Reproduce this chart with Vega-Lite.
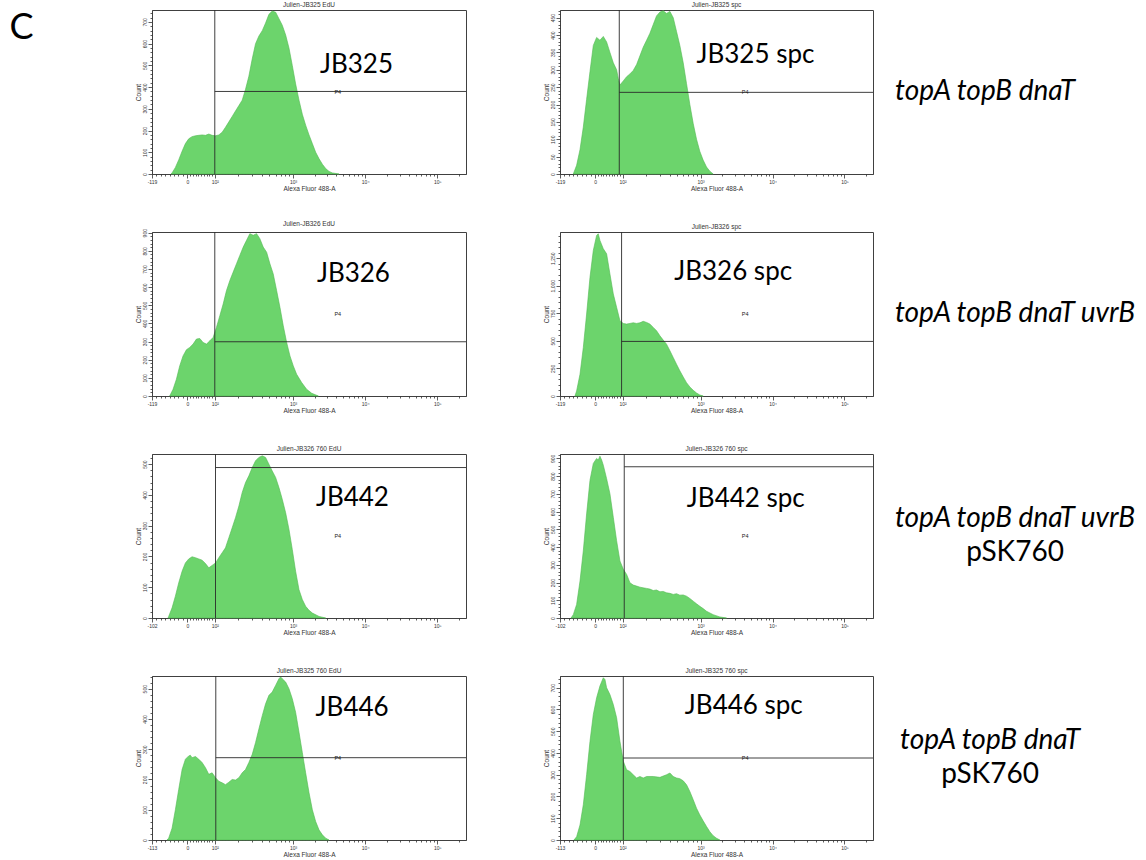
{
"$schema": "https://vega.github.io/schema/vega-lite/v6.json",
"padding": {"left": 9, "top": 1, "right": 0, "bottom": 0},
"background": "white",
"title": {"text": "C", "orient": "left", "anchor": "end", "angle": 0, "align": "right", "baseline": "top", "font": "Lato", "fontSize": 36, "fontWeight": "normal", "color": "#000000", "offset": 77, "dy": 10},
"columns": 3,
"spacing": {"row": 58, "column": 94},
"bounds": "flush",
"datasets": {
"hist": [
{"p":1,"u":1.310,"c":0},{"p":1,"u":1.324,"c":5},{"p":1,"u":1.370,"c":30},{"p":1,"u":1.416,"c":65},{"p":1,"u":1.463,"c":105},{"p":1,"u":1.509,"c":140},{"p":1,"u":1.555,"c":162},{"p":1,"u":1.601,"c":172},{"p":1,"u":1.648,"c":176},{"p":1,"u":1.694,"c":178},{"p":1,"u":1.740,"c":180},{"p":1,"u":1.787,"c":178},{"p":1,"u":1.833,"c":184},{"p":1,"u":1.879,"c":178},{"p":1,"u":1.926,"c":176},{"p":1,"u":1.972,"c":180},{"p":1,"u":2.018,"c":192},{"p":1,"u":2.064,"c":215},{"p":1,"u":2.111,"c":240},{"p":1,"u":2.157,"c":265},{"p":1,"u":2.203,"c":290},{"p":1,"u":2.250,"c":315},{"p":1,"u":2.296,"c":340},{"p":1,"u":2.342,"c":390},{"p":1,"u":2.388,"c":450},{"p":1,"u":2.435,"c":530},{"p":1,"u":2.481,"c":600},{"p":1,"u":2.527,"c":635},{"p":1,"u":2.574,"c":660},{"p":1,"u":2.620,"c":695},{"p":1,"u":2.666,"c":735},{"p":1,"u":2.712,"c":750},{"p":1,"u":2.759,"c":745},{"p":1,"u":2.805,"c":715},{"p":1,"u":2.851,"c":685},{"p":1,"u":2.898,"c":640},{"p":1,"u":2.944,"c":580},{"p":1,"u":2.990,"c":500},{"p":1,"u":3.036,"c":415},{"p":1,"u":3.083,"c":340},{"p":1,"u":3.129,"c":275},{"p":1,"u":3.175,"c":225},{"p":1,"u":3.222,"c":180},{"p":1,"u":3.268,"c":140},{"p":1,"u":3.314,"c":100},{"p":1,"u":3.361,"c":70},{"p":1,"u":3.407,"c":45},{"p":1,"u":3.453,"c":25},{"p":1,"u":3.499,"c":12},{"p":1,"u":3.546,"c":5},{"p":1,"u":3.638,"c":0},
{"p":2,"u":1.231,"c":0},{"p":2,"u":1.277,"c":25},{"p":2,"u":1.324,"c":70},{"p":2,"u":1.370,"c":135},{"p":2,"u":1.416,"c":215},{"p":2,"u":1.463,"c":295},{"p":2,"u":1.509,"c":370},{"p":2,"u":1.555,"c":393},{"p":2,"u":1.601,"c":385},{"p":2,"u":1.648,"c":396},{"p":2,"u":1.694,"c":380},{"p":2,"u":1.740,"c":350},{"p":2,"u":1.787,"c":320},{"p":2,"u":1.833,"c":300},{"p":2,"u":1.856,"c":275},{"p":2,"u":1.879,"c":256},{"p":2,"u":1.926,"c":268},{"p":2,"u":1.972,"c":280},{"p":2,"u":2.018,"c":288},{"p":2,"u":2.064,"c":298},{"p":2,"u":2.111,"c":315},{"p":2,"u":2.157,"c":340},{"p":2,"u":2.203,"c":365},{"p":2,"u":2.250,"c":385},{"p":2,"u":2.296,"c":405},{"p":2,"u":2.342,"c":430},{"p":2,"u":2.388,"c":455},{"p":2,"u":2.435,"c":466},{"p":2,"u":2.481,"c":470},{"p":2,"u":2.527,"c":462},{"p":2,"u":2.574,"c":468},{"p":2,"u":2.620,"c":450},{"p":2,"u":2.666,"c":410},{"p":2,"u":2.712,"c":370},{"p":2,"u":2.759,"c":320},{"p":2,"u":2.805,"c":260},{"p":2,"u":2.851,"c":200},{"p":2,"u":2.898,"c":145},{"p":2,"u":2.944,"c":100},{"p":2,"u":2.990,"c":65},{"p":2,"u":3.036,"c":40},{"p":2,"u":3.083,"c":20},{"p":2,"u":3.129,"c":8},{"p":2,"u":3.175,"c":0},
{"p":3,"u":1.291,"c":0},{"p":3,"u":1.338,"c":37},{"p":3,"u":1.384,"c":92},{"p":3,"u":1.430,"c":166},{"p":3,"u":1.476,"c":221},{"p":3,"u":1.523,"c":255},{"p":3,"u":1.569,"c":268},{"p":3,"u":1.615,"c":286},{"p":3,"u":1.662,"c":314},{"p":3,"u":1.708,"c":317},{"p":3,"u":1.754,"c":295},{"p":3,"u":1.801,"c":286},{"p":3,"u":1.847,"c":304},{"p":3,"u":1.893,"c":323},{"p":3,"u":1.939,"c":378},{"p":3,"u":1.986,"c":443},{"p":3,"u":2.032,"c":507},{"p":3,"u":2.078,"c":581},{"p":3,"u":2.125,"c":637},{"p":3,"u":2.171,"c":683},{"p":3,"u":2.217,"c":729},{"p":3,"u":2.263,"c":775},{"p":3,"u":2.310,"c":821},{"p":3,"u":2.356,"c":858},{"p":3,"u":2.402,"c":895},{"p":3,"u":2.449,"c":886},{"p":3,"u":2.495,"c":895},{"p":3,"u":2.541,"c":867},{"p":3,"u":2.587,"c":821},{"p":3,"u":2.634,"c":793},{"p":3,"u":2.680,"c":729},{"p":3,"u":2.726,"c":673},{"p":3,"u":2.773,"c":581},{"p":3,"u":2.819,"c":489},{"p":3,"u":2.865,"c":387},{"p":3,"u":2.912,"c":295},{"p":3,"u":2.958,"c":221},{"p":3,"u":3.004,"c":166},{"p":3,"u":3.050,"c":120},{"p":3,"u":3.120,"c":74},{"p":3,"u":3.189,"c":37},{"p":3,"u":3.259,"c":15},{"p":3,"u":3.351,"c":0},
{"p":4,"u":1.254,"c":0},{"p":4,"u":1.277,"c":46},{"p":4,"u":1.324,"c":197},{"p":4,"u":1.370,"c":440},{"p":4,"u":1.416,"c":743},{"p":4,"u":1.463,"c":1077},{"p":4,"u":1.509,"c":1320},{"p":4,"u":1.555,"c":1456},{"p":4,"u":1.578,"c":1471},{"p":4,"u":1.601,"c":1411},{"p":4,"u":1.648,"c":1335},{"p":4,"u":1.694,"c":1289},{"p":4,"u":1.740,"c":1107},{"p":4,"u":1.787,"c":925},{"p":4,"u":1.833,"c":804},{"p":4,"u":1.879,"c":683},{"p":4,"u":1.926,"c":658},{"p":4,"u":1.972,"c":652},{"p":4,"u":2.018,"c":658},{"p":4,"u":2.064,"c":664},{"p":4,"u":2.111,"c":658},{"p":4,"u":2.157,"c":664},{"p":4,"u":2.203,"c":677},{"p":4,"u":2.250,"c":667},{"p":4,"u":2.296,"c":652},{"p":4,"u":2.342,"c":622},{"p":4,"u":2.388,"c":592},{"p":4,"u":2.435,"c":546},{"p":4,"u":2.481,"c":507},{"p":4,"u":2.527,"c":470},{"p":4,"u":2.574,"c":410},{"p":4,"u":2.620,"c":349},{"p":4,"u":2.666,"c":288},{"p":4,"u":2.712,"c":228},{"p":4,"u":2.759,"c":173},{"p":4,"u":2.805,"c":121},{"p":4,"u":2.851,"c":82},{"p":4,"u":2.898,"c":52},{"p":4,"u":2.944,"c":27},{"p":4,"u":2.990,"c":9},{"p":4,"u":3.036,"c":0},
{"p":5,"u":1.268,"c":0},{"p":5,"u":1.277,"c":5},{"p":5,"u":1.324,"c":33},{"p":5,"u":1.370,"c":71},{"p":5,"u":1.416,"c":114},{"p":5,"u":1.463,"c":152},{"p":5,"u":1.509,"c":179},{"p":5,"u":1.555,"c":192},{"p":5,"u":1.601,"c":199},{"p":5,"u":1.648,"c":196},{"p":5,"u":1.694,"c":192},{"p":5,"u":1.740,"c":188},{"p":5,"u":1.787,"c":177},{"p":5,"u":1.833,"c":163},{"p":5,"u":1.879,"c":171},{"p":5,"u":1.926,"c":179},{"p":5,"u":1.972,"c":196},{"p":5,"u":2.018,"c":212},{"p":5,"u":2.064,"c":228},{"p":5,"u":2.111,"c":261},{"p":5,"u":2.157,"c":293},{"p":5,"u":2.203,"c":326},{"p":5,"u":2.250,"c":364},{"p":5,"u":2.296,"c":408},{"p":5,"u":2.342,"c":440},{"p":5,"u":2.388,"c":462},{"p":5,"u":2.435,"c":489},{"p":5,"u":2.481,"c":511},{"p":5,"u":2.527,"c":522},{"p":5,"u":2.574,"c":527},{"p":5,"u":2.620,"c":522},{"p":5,"u":2.666,"c":500},{"p":5,"u":2.712,"c":478},{"p":5,"u":2.759,"c":457},{"p":5,"u":2.805,"c":424},{"p":5,"u":2.851,"c":386},{"p":5,"u":2.898,"c":342},{"p":5,"u":2.944,"c":288},{"p":5,"u":2.990,"c":223},{"p":5,"u":3.036,"c":152},{"p":5,"u":3.083,"c":92},{"p":5,"u":3.129,"c":60},{"p":5,"u":3.175,"c":38},{"p":5,"u":3.222,"c":25},{"p":5,"u":3.268,"c":16},{"p":5,"u":3.361,"c":5},{"p":5,"u":3.453,"c":0},
{"p":6,"u":1.199,"c":0},{"p":6,"u":1.231,"c":19},{"p":6,"u":1.277,"c":76},{"p":6,"u":1.324,"c":208},{"p":6,"u":1.370,"c":379},{"p":6,"u":1.416,"c":587},{"p":6,"u":1.463,"c":777},{"p":6,"u":1.509,"c":872},{"p":6,"u":1.555,"c":900},{"p":6,"u":1.578,"c":891},{"p":6,"u":1.601,"c":913},{"p":6,"u":1.625,"c":891},{"p":6,"u":1.648,"c":862},{"p":6,"u":1.694,"c":786},{"p":6,"u":1.740,"c":701},{"p":6,"u":1.787,"c":568},{"p":6,"u":1.833,"c":436},{"p":6,"u":1.879,"c":322},{"p":6,"u":1.926,"c":275},{"p":6,"u":1.972,"c":246},{"p":6,"u":2.018,"c":199},{"p":6,"u":2.064,"c":186},{"p":6,"u":2.111,"c":180},{"p":6,"u":2.157,"c":174},{"p":6,"u":2.203,"c":170},{"p":6,"u":2.250,"c":167},{"p":6,"u":2.296,"c":163},{"p":6,"u":2.342,"c":155},{"p":6,"u":2.388,"c":158},{"p":6,"u":2.435,"c":148},{"p":6,"u":2.481,"c":150},{"p":6,"u":2.527,"c":142},{"p":6,"u":2.574,"c":139},{"p":6,"u":2.620,"c":133},{"p":6,"u":2.666,"c":137},{"p":6,"u":2.712,"c":129},{"p":6,"u":2.759,"c":130},{"p":6,"u":2.805,"c":123},{"p":6,"u":2.851,"c":110},{"p":6,"u":2.898,"c":95},{"p":6,"u":2.944,"c":80},{"p":6,"u":2.990,"c":66},{"p":6,"u":3.036,"c":53},{"p":6,"u":3.083,"c":38},{"p":6,"u":3.175,"c":19},{"p":6,"u":3.268,"c":6},{"p":6,"u":3.361,"c":0},
{"p":7,"u":1.254,"c":0},{"p":7,"u":1.277,"c":6},{"p":7,"u":1.324,"c":39},{"p":7,"u":1.370,"c":100},{"p":7,"u":1.416,"c":167},{"p":7,"u":1.463,"c":233},{"p":7,"u":1.509,"c":267},{"p":7,"u":1.555,"c":278},{"p":7,"u":1.578,"c":280},{"p":7,"u":1.601,"c":272},{"p":7,"u":1.648,"c":276},{"p":7,"u":1.694,"c":267},{"p":7,"u":1.740,"c":256},{"p":7,"u":1.787,"c":239},{"p":7,"u":1.833,"c":217},{"p":7,"u":1.879,"c":222},{"p":7,"u":1.926,"c":206},{"p":7,"u":1.972,"c":194},{"p":7,"u":2.018,"c":189},{"p":7,"u":2.064,"c":183},{"p":7,"u":2.111,"c":191},{"p":7,"u":2.157,"c":200},{"p":7,"u":2.203,"c":198},{"p":7,"u":2.250,"c":206},{"p":7,"u":2.296,"c":222},{"p":7,"u":2.342,"c":233},{"p":7,"u":2.388,"c":256},{"p":7,"u":2.435,"c":283},{"p":7,"u":2.481,"c":322},{"p":7,"u":2.527,"c":367},{"p":7,"u":2.574,"c":411},{"p":7,"u":2.620,"c":450},{"p":7,"u":2.666,"c":478},{"p":7,"u":2.712,"c":489},{"p":7,"u":2.759,"c":511},{"p":7,"u":2.805,"c":533},{"p":7,"u":2.828,"c":539},{"p":7,"u":2.851,"c":533},{"p":7,"u":2.898,"c":522},{"p":7,"u":2.944,"c":500},{"p":7,"u":2.990,"c":467},{"p":7,"u":3.036,"c":422},{"p":7,"u":3.083,"c":356},{"p":7,"u":3.129,"c":289},{"p":7,"u":3.175,"c":222},{"p":7,"u":3.222,"c":156},{"p":7,"u":3.268,"c":100},{"p":7,"u":3.314,"c":61},{"p":7,"u":3.361,"c":33},{"p":7,"u":3.407,"c":17},{"p":7,"u":3.453,"c":6},{"p":7,"u":3.499,"c":0},
{"p":8,"u":1.240,"c":0},{"p":8,"u":1.277,"c":15},{"p":8,"u":1.324,"c":69},{"p":8,"u":1.370,"c":162},{"p":8,"u":1.416,"c":300},{"p":8,"u":1.463,"c":454},{"p":8,"u":1.509,"c":577},{"p":8,"u":1.555,"c":654},{"p":8,"u":1.601,"c":708},{"p":8,"u":1.648,"c":746},{"p":8,"u":1.671,"c":738},{"p":8,"u":1.694,"c":700},{"p":8,"u":1.740,"c":669},{"p":8,"u":1.787,"c":623},{"p":8,"u":1.833,"c":562},{"p":8,"u":1.879,"c":454},{"p":8,"u":1.926,"c":362},{"p":8,"u":1.972,"c":323},{"p":8,"u":2.018,"c":315},{"p":8,"u":2.064,"c":300},{"p":8,"u":2.111,"c":285},{"p":8,"u":2.157,"c":292},{"p":8,"u":2.203,"c":285},{"p":8,"u":2.250,"c":292},{"p":8,"u":2.342,"c":292},{"p":8,"u":2.435,"c":288},{"p":8,"u":2.527,"c":300},{"p":8,"u":2.574,"c":308},{"p":8,"u":2.620,"c":292},{"p":8,"u":2.666,"c":285},{"p":8,"u":2.712,"c":282},{"p":8,"u":2.759,"c":272},{"p":8,"u":2.805,"c":254},{"p":8,"u":2.851,"c":223},{"p":8,"u":2.898,"c":185},{"p":8,"u":2.944,"c":146},{"p":8,"u":2.990,"c":115},{"p":8,"u":3.036,"c":88},{"p":8,"u":3.083,"c":62},{"p":8,"u":3.129,"c":38},{"p":8,"u":3.175,"c":20},{"p":8,"u":3.222,"c":8},{"p":8,"u":3.268,"c":0}
],
"annot": [
{"p":1,"gx":1.916,"gy":380,"gate":"P4","pu":3.62,"pc":378,"name":"JB325","nu":3.879,"nc":464},
{"p":2,"gx":1.870,"gy":235,"gate":"P4","pu":3.62,"pc":236,"name":"JB325 spc","nu":3.763,"nc":320},
{"p":3,"gx":1.916,"gy":299,"gate":"P4","pu":3.62,"pc":452,"name":"JB326","nu":3.837,"nc":631},
{"p":4,"gx":1.902,"gy":495,"gate":"P4","pu":3.62,"pc":743,"name":"JB326 spc","nu":3.453,"nc":1053},
{"p":5,"gx":1.926,"gy":489,"gate":"P4","pu":3.62,"pc":266,"name":"JB442","nu":3.823,"nc":364},
{"p":6,"gx":1.939,"gy":853,"gate":"P4","pu":3.62,"pc":462,"name":"JB442 spc","nu":3.629,"nc":625},
{"p":7,"gx":1.930,"gy":272,"gate":"P4","pu":3.62,"pc":271,"name":"JB446","nu":3.819,"nc":411},
{"p":8,"gx":1.926,"gy":377,"gate":"P4","pu":3.62,"pc":377,"name":"JB446 spc","nu":3.601,"nc":577}
],
"geno": [
{"row":1,"line":1,"label":"topA topB dnaT"},
{"row":2,"line":1,"label":"topA topB dnaT uvrB"},
{"row":3,"line":1,"label":"topA topB dnaT uvrB"},
{"row":3,"line":2,"label":"pSK760"},
{"row":4,"line":1,"label":"topA topB dnaT"},
{"row":4,"line":2,"label":"pSK760"}
]
},
"concat": [
{"width":314,"height":164,"title":"Julien-JB325 EdU","resolve":{"axis":{"x":"independent","y":"independent"}},"layer":[
{"data":{"name":"hist"},"transform":[{"filter":"datum.p == 1"}],"mark":{"type":"area","fill":"#6cd46c","stroke":"#52b852","strokeWidth":0.6},
"encoding":{"x":{"field":"u","type":"quantitative","title":"Alexa Fluor 488-A","scale":{"domain":[1.046,5.397],"nice":false,"zero":false},"axis":{"values":[1.046,1.536,1.917,3,4,5],"labelExpr":"datum.value == 1.046 ? '-119' : datum.value == 1.536 ? '0' : datum.value == 1.917 ? '10²' : datum.value == 3 ? '10³' : datum.value == 4 ? '10⁴' : '10⁵'","tickSize":4}},
"y":{"field":"c","type":"quantitative","title":"Count","scale":{"domain":[0,755],"nice":false},"axis":{"values":[0,100,200,300,400,500,600,700],"format":",d","tickSize":4}}}},
{"data":{"name":"annot"},"transform":[{"filter":"datum.p == 1"}],"mark":{"type":"rule","color":"#2a2a2a","strokeWidth":0.9},"encoding":{"x":{"field":"gx","type":"quantitative","axis":{"orient":"bottom","values":[1.103,1.165,1.227,1.289,1.351,1.412,1.474,1.574,1.612,1.65,1.688,1.727,1.765,1.803,1.841,1.879,2.243,2.434,2.569,2.674,2.76,2.832,2.895,2.95,3.301,3.477,3.602,3.699,3.778,3.845,3.903,3.954,4.301,4.477,4.602,4.699,4.778,4.845,4.903,4.954,5.301],"labels":false,"title":null,"domain":false,"tickSize":2}}}},
{"data":{"name":"annot"},"transform":[{"filter":"datum.p == 1"}],"mark":{"type":"rule","color":"#2a2a2a","strokeWidth":0.9},"encoding":{"x":{"field":"gx","type":"quantitative","axis":null},"x2":{"datum":5.397},"y":{"field":"gy","type":"quantitative","axis":{"orient":"left","values":[20,40,60,80,120,140,160,180,220,240,260,280,320,340,360,380,420,440,460,480,520,540,560,580,620,640,660,680,720,740],"labels":false,"title":null,"domain":false,"tickSize":2}}}},
{"data":{"name":"annot"},"transform":[{"filter":"datum.p == 1"}],"mark":{"type":"text","font":"Liberation Sans","fontSize":5.5,"color":"#222222","baseline":"middle"},"encoding":{"x":{"field":"pu","type":"quantitative","axis":null},"y":{"field":"pc","type":"quantitative","axis":null},"text":{"field":"gate"}}},
{"data":{"name":"annot"},"transform":[{"filter":"datum.p == 1"}],"mark":{"type":"text","font":"Lato","fontSize":26,"color":"#000000","baseline":"alphabetic"},"encoding":{"x":{"field":"nu","type":"quantitative","axis":null},"y":{"field":"nc","type":"quantitative","axis":null},"text":{"field":"name"}}}
]},
{"width":313,"height":164,"title":"Julien-JB325 spc","resolve":{"axis":{"x":"independent","y":"independent"}},"layer":[
{"data":{"name":"hist"},"transform":[{"filter":"datum.p == 2"}],"mark":{"type":"area","fill":"#6cd46c","stroke":"#52b852","strokeWidth":0.6},
"encoding":{"x":{"field":"u","type":"quantitative","title":"Alexa Fluor 488-A","scale":{"domain":[1.046,5.397],"nice":false,"zero":false},"axis":{"values":[1.046,1.536,1.917,3,4,5],"labelExpr":"datum.value == 1.046 ? '-119' : datum.value == 1.536 ? '0' : datum.value == 1.917 ? '10²' : datum.value == 3 ? '10³' : datum.value == 4 ? '10⁴' : '10⁵'","tickSize":4}},
"y":{"field":"c","type":"quantitative","title":"Count","scale":{"domain":[0,472],"nice":false},"axis":{"values":[0,50,100,150,200,250,300,350,400,450],"format":",d","tickSize":4}}}},
{"data":{"name":"annot"},"transform":[{"filter":"datum.p == 2"}],"mark":{"type":"rule","color":"#2a2a2a","strokeWidth":0.9},"encoding":{"x":{"field":"gx","type":"quantitative","axis":{"orient":"bottom","values":[1.103,1.165,1.227,1.289,1.351,1.412,1.474,1.574,1.612,1.65,1.688,1.727,1.765,1.803,1.841,1.879,2.243,2.434,2.569,2.674,2.76,2.832,2.895,2.95,3.301,3.477,3.602,3.699,3.778,3.845,3.903,3.954,4.301,4.477,4.602,4.699,4.778,4.845,4.903,4.954,5.301],"labels":false,"title":null,"domain":false,"tickSize":2}}}},
{"data":{"name":"annot"},"transform":[{"filter":"datum.p == 2"}],"mark":{"type":"rule","color":"#2a2a2a","strokeWidth":0.9},"encoding":{"x":{"field":"gx","type":"quantitative","axis":null},"x2":{"datum":5.397},"y":{"field":"gy","type":"quantitative","axis":{"orient":"left","values":[10,20,30,40,60,70,80,90,110,120,130,140,160,170,180,190,210,220,230,240,260,270,280,290,310,320,330,340,360,370,380,390,410,420,430,440,460,470],"labels":false,"title":null,"domain":false,"tickSize":2}}}},
{"data":{"name":"annot"},"transform":[{"filter":"datum.p == 2"}],"mark":{"type":"text","font":"Liberation Sans","fontSize":5.5,"color":"#222222","baseline":"middle"},"encoding":{"x":{"field":"pu","type":"quantitative","axis":null},"y":{"field":"pc","type":"quantitative","axis":null},"text":{"field":"gate"}}},
{"data":{"name":"annot"},"transform":[{"filter":"datum.p == 2"}],"mark":{"type":"text","font":"Lato","fontSize":26,"color":"#000000","baseline":"alphabetic"},"encoding":{"x":{"field":"nu","type":"quantitative","axis":null},"y":{"field":"nc","type":"quantitative","axis":null},"text":{"field":"name"}}}
]},
{"width":36,"height":164,"view":{"stroke":null},"data":{"name":"geno"},"transform":[{"filter":"datum.row == 1"}],
"mark":{"type":"text","font":"Lato","fontSize":28,"fontStyle":"italic","baseline":"middle","color":"#000000"},
"encoding":{"y":{"field":"line","type":"quantitative","scale":{"domain":[-1.343,3.343],"reverse":true,"nice":false,"zero":false},"axis":null},"text":{"field":"label"}}},
{"width":314,"height":164,"title":"Julien-JB326 EdU","resolve":{"axis":{"x":"independent","y":"independent"}},"layer":[
{"data":{"name":"hist"},"transform":[{"filter":"datum.p == 3"}],"mark":{"type":"area","fill":"#6cd46c","stroke":"#52b852","strokeWidth":0.6},
"encoding":{"x":{"field":"u","type":"quantitative","title":"Alexa Fluor 488-A","scale":{"domain":[1.046,5.397],"nice":false,"zero":false},"axis":{"values":[1.046,1.536,1.917,3,4,5],"labelExpr":"datum.value == 1.046 ? '-119' : datum.value == 1.536 ? '0' : datum.value == 1.917 ? '10²' : datum.value == 3 ? '10³' : datum.value == 4 ? '10⁴' : '10⁵'","tickSize":4}},
"y":{"field":"c","type":"quantitative","title":"Count","scale":{"domain":[0,904],"nice":false},"axis":{"values":[0,100,200,300,400,500,600,700,800,900],"format":",d","tickSize":4}}}},
{"data":{"name":"annot"},"transform":[{"filter":"datum.p == 3"}],"mark":{"type":"rule","color":"#2a2a2a","strokeWidth":0.9},"encoding":{"x":{"field":"gx","type":"quantitative","axis":{"orient":"bottom","values":[1.103,1.165,1.227,1.289,1.351,1.412,1.474,1.574,1.612,1.65,1.688,1.727,1.765,1.803,1.841,1.879,2.243,2.434,2.569,2.674,2.76,2.832,2.895,2.95,3.301,3.477,3.602,3.699,3.778,3.845,3.903,3.954,4.301,4.477,4.602,4.699,4.778,4.845,4.903,4.954,5.301],"labels":false,"title":null,"domain":false,"tickSize":2}}}},
{"data":{"name":"annot"},"transform":[{"filter":"datum.p == 3"}],"mark":{"type":"rule","color":"#2a2a2a","strokeWidth":0.9},"encoding":{"x":{"field":"gx","type":"quantitative","axis":null},"x2":{"datum":5.397},"y":{"field":"gy","type":"quantitative","axis":{"orient":"left","values":[20,40,60,80,120,140,160,180,220,240,260,280,320,340,360,380,420,440,460,480,520,540,560,580,620,640,660,680,720,740,760,780,820,840,860,880],"labels":false,"title":null,"domain":false,"tickSize":2}}}},
{"data":{"name":"annot"},"transform":[{"filter":"datum.p == 3"}],"mark":{"type":"text","font":"Liberation Sans","fontSize":5.5,"color":"#222222","baseline":"middle"},"encoding":{"x":{"field":"pu","type":"quantitative","axis":null},"y":{"field":"pc","type":"quantitative","axis":null},"text":{"field":"gate"}}},
{"data":{"name":"annot"},"transform":[{"filter":"datum.p == 3"}],"mark":{"type":"text","font":"Lato","fontSize":26,"color":"#000000","baseline":"alphabetic"},"encoding":{"x":{"field":"nu","type":"quantitative","axis":null},"y":{"field":"nc","type":"quantitative","axis":null},"text":{"field":"name"}}}
]},
{"width":313,"height":164,"title":"Julien-JB326 spc","resolve":{"axis":{"x":"independent","y":"independent"}},"layer":[
{"data":{"name":"hist"},"transform":[{"filter":"datum.p == 4"}],"mark":{"type":"area","fill":"#6cd46c","stroke":"#52b852","strokeWidth":0.6},
"encoding":{"x":{"field":"u","type":"quantitative","title":"Alexa Fluor 488-A","scale":{"domain":[1.046,5.397],"nice":false,"zero":false},"axis":{"values":[1.046,1.536,1.917,3,4,5],"labelExpr":"datum.value == 1.046 ? '-119' : datum.value == 1.536 ? '0' : datum.value == 1.917 ? '10²' : datum.value == 3 ? '10³' : datum.value == 4 ? '10⁴' : '10⁵'","tickSize":4}},
"y":{"field":"c","type":"quantitative","title":"Count","scale":{"domain":[0,1487],"nice":false},"axis":{"values":[0,250,500,750,1000,1250],"format":",d","tickSize":4}}}},
{"data":{"name":"annot"},"transform":[{"filter":"datum.p == 4"}],"mark":{"type":"rule","color":"#2a2a2a","strokeWidth":0.9},"encoding":{"x":{"field":"gx","type":"quantitative","axis":{"orient":"bottom","values":[1.103,1.165,1.227,1.289,1.351,1.412,1.474,1.574,1.612,1.65,1.688,1.727,1.765,1.803,1.841,1.879,2.243,2.434,2.569,2.674,2.76,2.832,2.895,2.95,3.301,3.477,3.602,3.699,3.778,3.845,3.903,3.954,4.301,4.477,4.602,4.699,4.778,4.845,4.903,4.954,5.301],"labels":false,"title":null,"domain":false,"tickSize":2}}}},
{"data":{"name":"annot"},"transform":[{"filter":"datum.p == 4"}],"mark":{"type":"rule","color":"#2a2a2a","strokeWidth":0.9},"encoding":{"x":{"field":"gx","type":"quantitative","axis":null},"x2":{"datum":5.397},"y":{"field":"gy","type":"quantitative","axis":{"orient":"left","values":[50,100,150,200,300,350,400,450,550,600,650,700,800,850,900,950,1050,1100,1150,1200,1300,1350,1400,1450],"labels":false,"title":null,"domain":false,"tickSize":2}}}},
{"data":{"name":"annot"},"transform":[{"filter":"datum.p == 4"}],"mark":{"type":"text","font":"Liberation Sans","fontSize":5.5,"color":"#222222","baseline":"middle"},"encoding":{"x":{"field":"pu","type":"quantitative","axis":null},"y":{"field":"pc","type":"quantitative","axis":null},"text":{"field":"gate"}}},
{"data":{"name":"annot"},"transform":[{"filter":"datum.p == 4"}],"mark":{"type":"text","font":"Lato","fontSize":26,"color":"#000000","baseline":"alphabetic"},"encoding":{"x":{"field":"nu","type":"quantitative","axis":null},"y":{"field":"nc","type":"quantitative","axis":null},"text":{"field":"name"}}}
]},
{"width":96,"height":164,"view":{"stroke":null},"data":{"name":"geno"},"transform":[{"filter":"datum.row == 2"}],
"mark":{"type":"text","font":"Lato","fontSize":28,"fontStyle":"italic","baseline":"middle","color":"#000000"},
"encoding":{"y":{"field":"line","type":"quantitative","scale":{"domain":[-1.343,3.343],"reverse":true,"nice":false,"zero":false},"axis":null},"text":{"field":"label"}}},
{"width":314,"height":164,"title":"Julien-JB326 760 EdU","resolve":{"axis":{"x":"independent","y":"independent"}},"layer":[
{"data":{"name":"hist"},"transform":[{"filter":"datum.p == 5"}],"mark":{"type":"area","fill":"#6cd46c","stroke":"#52b852","strokeWidth":0.6},
"encoding":{"x":{"field":"u","type":"quantitative","title":"Alexa Fluor 488-A","scale":{"domain":[1.046,5.397],"nice":false,"zero":false},"axis":{"values":[1.046,1.536,1.917,3,4,5],"labelExpr":"datum.value == 1.046 ? '-102' : datum.value == 1.536 ? '0' : datum.value == 1.917 ? '10²' : datum.value == 3 ? '10³' : datum.value == 4 ? '10⁴' : '10⁵'","tickSize":4}},
"y":{"field":"c","type":"quantitative","title":"Count","scale":{"domain":[0,533],"nice":false},"axis":{"values":[0,100,200,300,400,500],"format":",d","tickSize":4}}}},
{"data":{"name":"annot"},"transform":[{"filter":"datum.p == 5"}],"mark":{"type":"rule","color":"#2a2a2a","strokeWidth":0.9},"encoding":{"x":{"field":"gx","type":"quantitative","axis":{"orient":"bottom","values":[1.103,1.165,1.227,1.289,1.351,1.412,1.474,1.574,1.612,1.65,1.688,1.727,1.765,1.803,1.841,1.879,2.243,2.434,2.569,2.674,2.76,2.832,2.895,2.95,3.301,3.477,3.602,3.699,3.778,3.845,3.903,3.954,4.301,4.477,4.602,4.699,4.778,4.845,4.903,4.954,5.301],"labels":false,"title":null,"domain":false,"tickSize":2}}}},
{"data":{"name":"annot"},"transform":[{"filter":"datum.p == 5"}],"mark":{"type":"rule","color":"#2a2a2a","strokeWidth":0.9},"encoding":{"x":{"field":"gx","type":"quantitative","axis":null},"x2":{"datum":5.397},"y":{"field":"gy","type":"quantitative","axis":{"orient":"left","values":[20,40,60,80,120,140,160,180,220,240,260,280,320,340,360,380,420,440,460,480,520],"labels":false,"title":null,"domain":false,"tickSize":2}}}},
{"data":{"name":"annot"},"transform":[{"filter":"datum.p == 5"}],"mark":{"type":"text","font":"Liberation Sans","fontSize":5.5,"color":"#222222","baseline":"middle"},"encoding":{"x":{"field":"pu","type":"quantitative","axis":null},"y":{"field":"pc","type":"quantitative","axis":null},"text":{"field":"gate"}}},
{"data":{"name":"annot"},"transform":[{"filter":"datum.p == 5"}],"mark":{"type":"text","font":"Lato","fontSize":26,"color":"#000000","baseline":"alphabetic"},"encoding":{"x":{"field":"nu","type":"quantitative","axis":null},"y":{"field":"nc","type":"quantitative","axis":null},"text":{"field":"name"}}}
]},
{"width":313,"height":164,"title":"Julien-JB326 760 spc","resolve":{"axis":{"x":"independent","y":"independent"}},"layer":[
{"data":{"name":"hist"},"transform":[{"filter":"datum.p == 6"}],"mark":{"type":"area","fill":"#6cd46c","stroke":"#52b852","strokeWidth":0.6},
"encoding":{"x":{"field":"u","type":"quantitative","title":"Alexa Fluor 488-A","scale":{"domain":[1.046,5.397],"nice":false,"zero":false},"axis":{"values":[1.046,1.536,1.917,3,4,5],"labelExpr":"datum.value == 1.046 ? '-102' : datum.value == 1.536 ? '0' : datum.value == 1.917 ? '10²' : datum.value == 3 ? '10³' : datum.value == 4 ? '10⁴' : '10⁵'","tickSize":4}},
"y":{"field":"c","type":"quantitative","title":"Count","scale":{"domain":[0,925],"nice":false},"axis":{"values":[0,100,200,300,400,500,600,700,800,900],"format":",d","tickSize":4}}}},
{"data":{"name":"annot"},"transform":[{"filter":"datum.p == 6"}],"mark":{"type":"rule","color":"#2a2a2a","strokeWidth":0.9},"encoding":{"x":{"field":"gx","type":"quantitative","axis":{"orient":"bottom","values":[1.103,1.165,1.227,1.289,1.351,1.412,1.474,1.574,1.612,1.65,1.688,1.727,1.765,1.803,1.841,1.879,2.243,2.434,2.569,2.674,2.76,2.832,2.895,2.95,3.301,3.477,3.602,3.699,3.778,3.845,3.903,3.954,4.301,4.477,4.602,4.699,4.778,4.845,4.903,4.954,5.301],"labels":false,"title":null,"domain":false,"tickSize":2}}}},
{"data":{"name":"annot"},"transform":[{"filter":"datum.p == 6"}],"mark":{"type":"rule","color":"#2a2a2a","strokeWidth":0.9},"encoding":{"x":{"field":"gx","type":"quantitative","axis":null},"x2":{"datum":5.397},"y":{"field":"gy","type":"quantitative","axis":{"orient":"left","values":[20,40,60,80,120,140,160,180,220,240,260,280,320,340,360,380,420,440,460,480,520,540,560,580,620,640,660,680,720,740,760,780,820,840,860,880,920],"labels":false,"title":null,"domain":false,"tickSize":2}}}},
{"data":{"name":"annot"},"transform":[{"filter":"datum.p == 6"}],"mark":{"type":"text","font":"Liberation Sans","fontSize":5.5,"color":"#222222","baseline":"middle"},"encoding":{"x":{"field":"pu","type":"quantitative","axis":null},"y":{"field":"pc","type":"quantitative","axis":null},"text":{"field":"gate"}}},
{"data":{"name":"annot"},"transform":[{"filter":"datum.p == 6"}],"mark":{"type":"text","font":"Lato","fontSize":26,"color":"#000000","baseline":"alphabetic"},"encoding":{"x":{"field":"nu","type":"quantitative","axis":null},"y":{"field":"nc","type":"quantitative","axis":null},"text":{"field":"name"}}}
]},
{"width":96,"height":164,"view":{"stroke":null},"data":{"name":"geno"},"transform":[{"filter":"datum.row == 3"}],
"encoding":{"y":{"field":"line","type":"quantitative","scale":{"domain":[-0.843,3.843],"reverse":true,"nice":false,"zero":false},"axis":null},"text":{"field":"label"}},
"layer":[
{"transform":[{"filter":"datum.line == 1"}],"mark":{"type":"text","font":"Lato","fontSize":28,"fontStyle":"italic","baseline":"middle","color":"#000000"}},
{"transform":[{"filter":"datum.line == 2"}],"mark":{"type":"text","font":"Lato","fontSize":28,"baseline":"middle","color":"#000000"}}
]},
{"width":314,"height":164,"title":"Julien-JB325 760 EdU","resolve":{"axis":{"x":"independent","y":"independent"}},"layer":[
{"data":{"name":"hist"},"transform":[{"filter":"datum.p == 7"}],"mark":{"type":"area","fill":"#6cd46c","stroke":"#52b852","strokeWidth":0.6},
"encoding":{"x":{"field":"u","type":"quantitative","title":"Alexa Fluor 488-A","scale":{"domain":[1.046,5.397],"nice":false,"zero":false},"axis":{"values":[1.046,1.536,1.917,3,4,5],"labelExpr":"datum.value == 1.046 ? '-113' : datum.value == 1.536 ? '0' : datum.value == 1.917 ? '10²' : datum.value == 3 ? '10³' : datum.value == 4 ? '10⁴' : '10⁵'","tickSize":4}},
"y":{"field":"c","type":"quantitative","title":"Count","scale":{"domain":[0,542],"nice":false},"axis":{"values":[0,100,200,300,400,500],"format":",d","tickSize":4}}}},
{"data":{"name":"annot"},"transform":[{"filter":"datum.p == 7"}],"mark":{"type":"rule","color":"#2a2a2a","strokeWidth":0.9},"encoding":{"x":{"field":"gx","type":"quantitative","axis":{"orient":"bottom","values":[1.103,1.165,1.227,1.289,1.351,1.412,1.474,1.574,1.612,1.65,1.688,1.727,1.765,1.803,1.841,1.879,2.243,2.434,2.569,2.674,2.76,2.832,2.895,2.95,3.301,3.477,3.602,3.699,3.778,3.845,3.903,3.954,4.301,4.477,4.602,4.699,4.778,4.845,4.903,4.954,5.301],"labels":false,"title":null,"domain":false,"tickSize":2}}}},
{"data":{"name":"annot"},"transform":[{"filter":"datum.p == 7"}],"mark":{"type":"rule","color":"#2a2a2a","strokeWidth":0.9},"encoding":{"x":{"field":"gx","type":"quantitative","axis":null},"x2":{"datum":5.397},"y":{"field":"gy","type":"quantitative","axis":{"orient":"left","values":[20,40,60,80,120,140,160,180,220,240,260,280,320,340,360,380,420,440,460,480,520,540],"labels":false,"title":null,"domain":false,"tickSize":2}}}},
{"data":{"name":"annot"},"transform":[{"filter":"datum.p == 7"}],"mark":{"type":"text","font":"Liberation Sans","fontSize":5.5,"color":"#222222","baseline":"middle"},"encoding":{"x":{"field":"pu","type":"quantitative","axis":null},"y":{"field":"pc","type":"quantitative","axis":null},"text":{"field":"gate"}}},
{"data":{"name":"annot"},"transform":[{"filter":"datum.p == 7"}],"mark":{"type":"text","font":"Lato","fontSize":26,"color":"#000000","baseline":"alphabetic"},"encoding":{"x":{"field":"nu","type":"quantitative","axis":null},"y":{"field":"nc","type":"quantitative","axis":null},"text":{"field":"name"}}}
]},
{"width":313,"height":164,"title":"Julien-JB325 760 spc","resolve":{"axis":{"x":"independent","y":"independent"}},"layer":[
{"data":{"name":"hist"},"transform":[{"filter":"datum.p == 8"}],"mark":{"type":"area","fill":"#6cd46c","stroke":"#52b852","strokeWidth":0.6},
"encoding":{"x":{"field":"u","type":"quantitative","title":"Alexa Fluor 488-A","scale":{"domain":[1.046,5.397],"nice":false,"zero":false},"axis":{"values":[1.046,1.536,1.917,3,4,5],"labelExpr":"datum.value == 1.046 ? '-113' : datum.value == 1.536 ? '0' : datum.value == 1.917 ? '10²' : datum.value == 3 ? '10³' : datum.value == 4 ? '10⁴' : '10⁵'","tickSize":4}},
"y":{"field":"c","type":"quantitative","title":"Count","scale":{"domain":[0,754],"nice":false},"axis":{"values":[0,100,200,300,400,500,600,700],"format":",d","tickSize":4}}}},
{"data":{"name":"annot"},"transform":[{"filter":"datum.p == 8"}],"mark":{"type":"rule","color":"#2a2a2a","strokeWidth":0.9},"encoding":{"x":{"field":"gx","type":"quantitative","axis":{"orient":"bottom","values":[1.103,1.165,1.227,1.289,1.351,1.412,1.474,1.574,1.612,1.65,1.688,1.727,1.765,1.803,1.841,1.879,2.243,2.434,2.569,2.674,2.76,2.832,2.895,2.95,3.301,3.477,3.602,3.699,3.778,3.845,3.903,3.954,4.301,4.477,4.602,4.699,4.778,4.845,4.903,4.954,5.301],"labels":false,"title":null,"domain":false,"tickSize":2}}}},
{"data":{"name":"annot"},"transform":[{"filter":"datum.p == 8"}],"mark":{"type":"rule","color":"#2a2a2a","strokeWidth":0.9},"encoding":{"x":{"field":"gx","type":"quantitative","axis":null},"x2":{"datum":5.397},"y":{"field":"gy","type":"quantitative","axis":{"orient":"left","values":[20,40,60,80,120,140,160,180,220,240,260,280,320,340,360,380,420,440,460,480,520,540,560,580,620,640,660,680,720,740],"labels":false,"title":null,"domain":false,"tickSize":2}}}},
{"data":{"name":"annot"},"transform":[{"filter":"datum.p == 8"}],"mark":{"type":"text","font":"Liberation Sans","fontSize":5.5,"color":"#222222","baseline":"middle"},"encoding":{"x":{"field":"pu","type":"quantitative","axis":null},"y":{"field":"pc","type":"quantitative","axis":null},"text":{"field":"gate"}}},
{"data":{"name":"annot"},"transform":[{"filter":"datum.p == 8"}],"mark":{"type":"text","font":"Lato","fontSize":26,"color":"#000000","baseline":"alphabetic"},"encoding":{"x":{"field":"nu","type":"quantitative","axis":null},"y":{"field":"nc","type":"quantitative","axis":null},"text":{"field":"name"}}}
]},
{"width":46,"height":164,"view":{"stroke":null},"data":{"name":"geno"},"transform":[{"filter":"datum.row == 4"}],
"encoding":{"y":{"field":"line","type":"quantitative","scale":{"domain":[-0.843,3.843],"reverse":true,"nice":false,"zero":false},"axis":null},"text":{"field":"label"}},
"layer":[
{"transform":[{"filter":"datum.line == 1"}],"mark":{"type":"text","font":"Lato","fontSize":28,"fontStyle":"italic","baseline":"middle","color":"#000000"}},
{"transform":[{"filter":"datum.line == 2"}],"mark":{"type":"text","font":"Lato","fontSize":28,"baseline":"middle","color":"#000000"}}
]}
],
"config": {
"view": {"stroke": "#404040", "strokeWidth": 1},
"font": "Liberation Sans",
"title": {"font": "Liberation Sans", "fontSize": 6.5, "fontWeight": "normal", "color": "#333333", "offset": 1},
"axis": {"grid": false, "domainColor": "#404040", "tickColor": "#333333", "labelColor": "#333333", "titleColor": "#333333", "labelFont": "Liberation Sans", "titleFont": "Liberation Sans", "labelFontSize": 5, "titleFontSize": 6.5, "titleFontWeight": "normal", "labelOverlap": false, "labelFlush": false, "labelPadding": 1, "titlePadding": 1, "tickWidth": 0.8, "domainWidth": 1},
"axisY": {"labelAngle": 270, "labelAlign": "center", "labelBaseline": "bottom"}
}
}
